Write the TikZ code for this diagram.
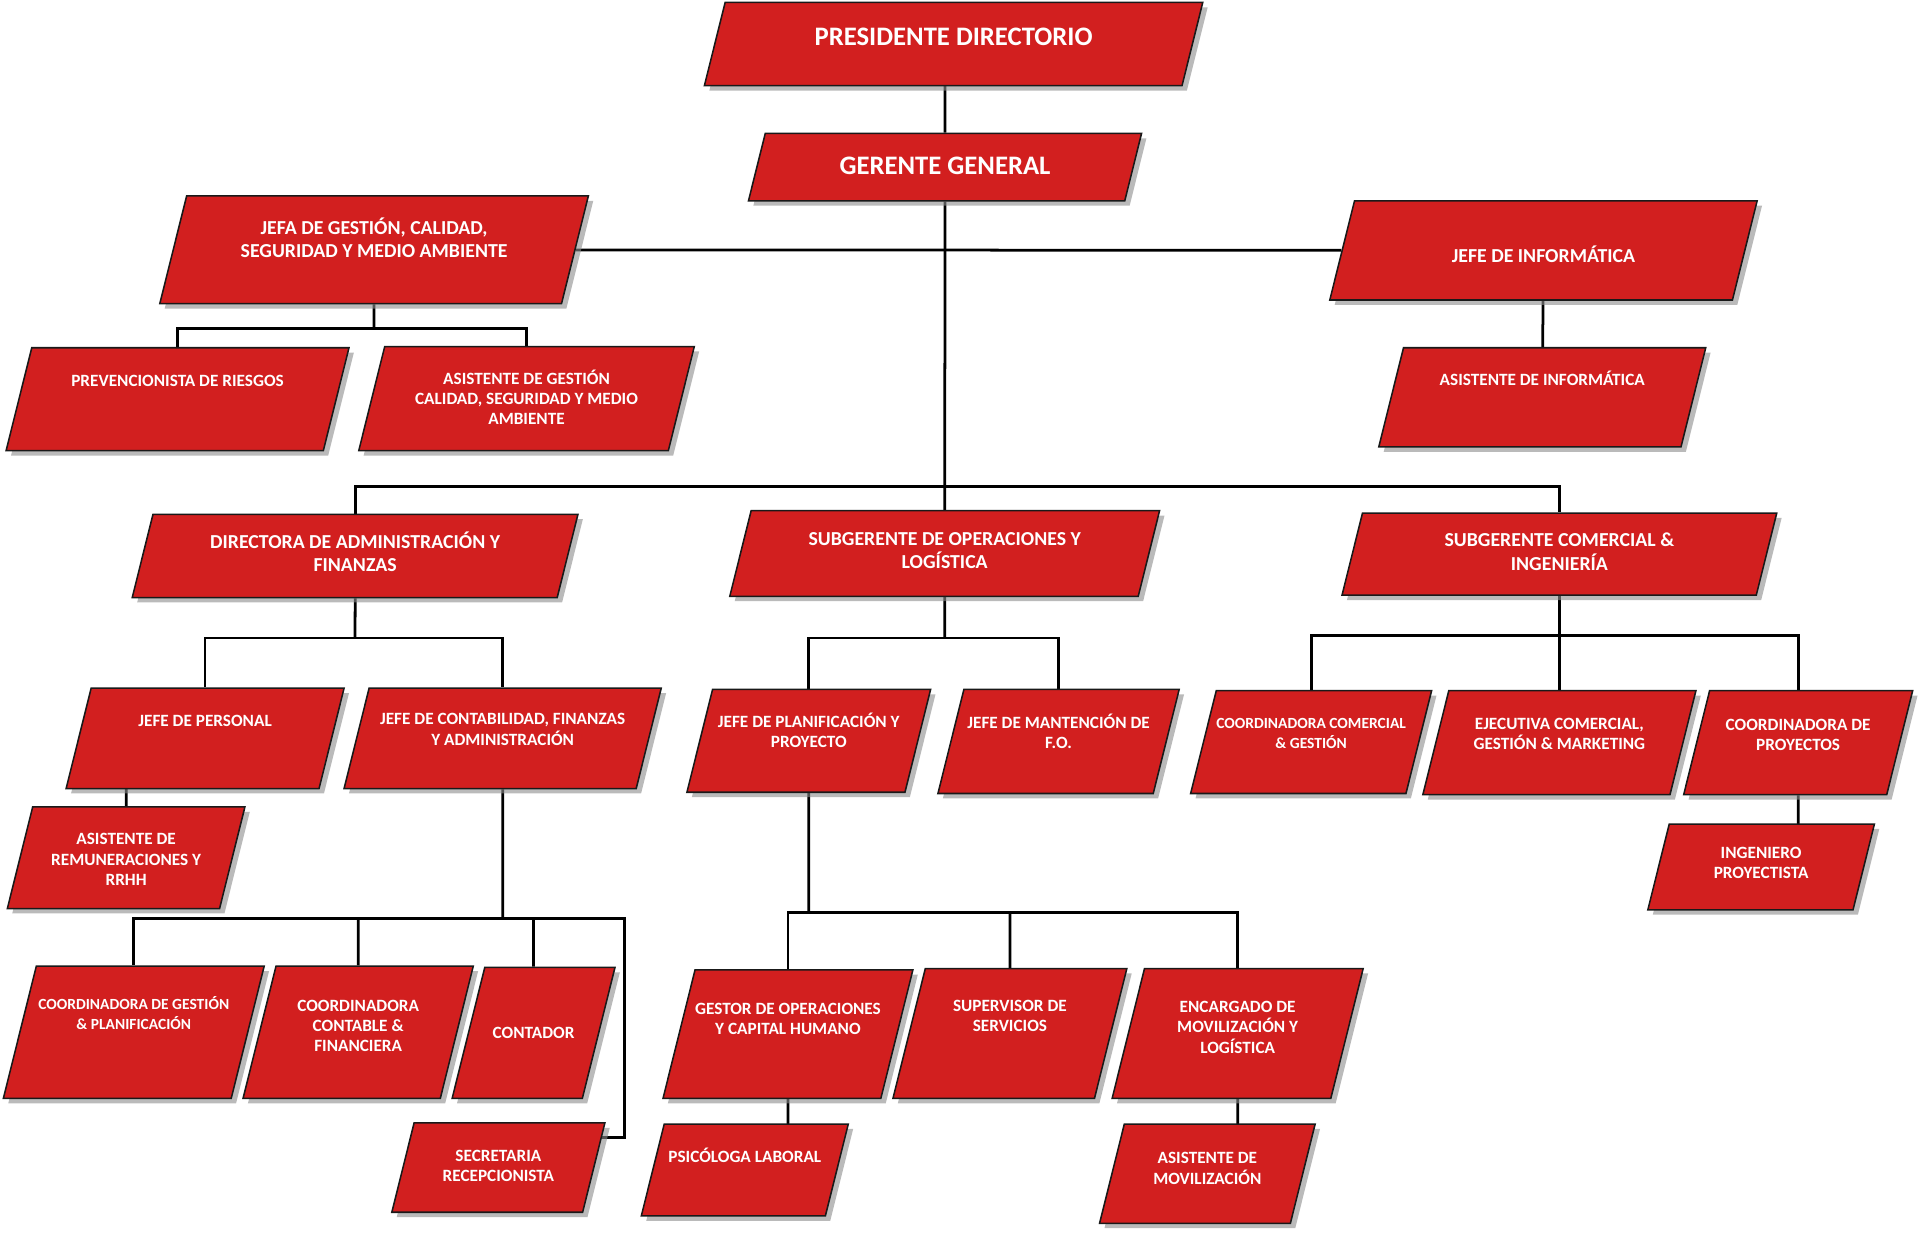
\documentclass[tikz,border=0pt]{standalone}
\usepackage{fontspec}
\setmainfont{Carlito}
\usepackage{xcolor}
\usetikzlibrary{shapes.geometric,shadows,backgrounds}
\definecolor{rojo}{RGB}{210,31,31}
\newcommand{\rotulo}[2]{\raisebox{\dimexpr #1mm/4-0.33em\relax}[0pt][0pt]{\begin{tabular}{@{}c@{}}#2\end{tabular}}}

\begin{document}
\begin{tikzpicture}[x=0.25mm, y=-0.25mm,
  puesto/.style={trapezium, trapezium left angle=76, trapezium right angle=104,
    trapezium stretches body=true, inner sep=0pt, draw=black!90, line width=0.9pt,
    fill=rojo, text=white,
    drop shadow={shadow xshift=1mm, shadow yshift=-1mm, fill=black!45, opacity=0.6}},
  tam/.style 2 args={minimum width=#1*0.25mm, minimum height=#2*0.25mm,
    text height=#2*0.125mm, text depth=#2*0.125mm},
  grande/.style={font=\fontsize{15.5}{18}\selectfont\bfseries},
  medio/.style={font=\fontsize{11.5}{13.5}\selectfont\bfseries},
  chico/.style={font=\fontsize{10}{11.7}\selectfont\bfseries},
  enlace/.style={line width=1.6pt}]
  \useasboundingbox (0,0) rectangle (1568,1013);

  \node[puesto,grande,tam={407}{68}] (pres) at (778.75,36) {\rotulo{6}{PRESIDENTE DIRECTORIO}};
  \node[puesto,grande,tam={321}{55}] (ger) at (771.75,136.5) {\rotulo{1.5}{GERENTE GENERAL}};
  \node[puesto,medio,tam={350}{88}] (jefa) at (305.5,204) {\rotulo{8}{JEFA DE GESTIÓN, CALIDAD,\\SEGURIDAD Y MEDIO AMBIENTE}};
  \node[puesto,medio,tam={349}{81}] (info) at (1260.5,204.5) {\rotulo{-4.5}{JEFE DE INFORMÁTICA}};
  \node[puesto,chico,tam={280}{84}] (prev) at (145,326) {\rotulo{15}{PREVENCIONISTA DE RIESGOS}};
  \node[puesto,chico,tam={274}{85}] (asisg) at (430,325.5) {\rotulo{0}{ASISTENTE DE GESTIÓN\\CALIDAD, SEGURIDAD Y MEDIO\\AMBIENTE}};
  \node[puesto,chico,tam={267}{81}] (asisi) at (1259.5,324.5) {\rotulo{14}{ASISTENTE DE INFORMÁTICA}};

  \node[puesto,medio,tam={364}{68}] (dir) at (290,454) {\rotulo{1.5}{DIRECTORA DE ADMINISTRACIÓN Y\\FINANZAS}};
  \node[puesto,medio,tam={351}{70}] (subop) at (771.5,452) {\rotulo{2}{SUBGERENTE DE OPERACIONES Y\\LOGÍSTICA}};
  \node[puesto,medio,tam={355}{67}] (subcom) at (1273.5,452.5) {\rotulo{1.5}{SUBGERENTE COMERCIAL \&\\INGENIERÍA}};

  \node[puesto,chico,tam={227}{82}] (jper) at (167.5,603) {\rotulo{14}{JEFE DE PERSONAL}};
  \node[puesto,chico,tam={259}{82}] (jcon) at (410.5,603) {\rotulo{7}{JEFE DE CONTABILIDAD, FINANZAS\\Y ADMINISTRACIÓN}};
  \node[puesto,chico,tam={199}{84}] (jpla) at (660.5,605) {\rotulo{7}{JEFE DE PLANIFICACIÓN Y\\PROYECTO}};
  \node[puesto,chico,tam={197}{85}] (jman) at (864.5,605.5) {\rotulo{7}{JEFE DE MANTENCIÓN DE\\F.O.}};
  \node[puesto,chico,tam={193}{84}] (ccom) at (1070.75,606) {\rotulo{7}{\fontsize{9}{11.7}\selectfont COORDINADORA COMERCIAL\\\fontsize{9}{11.7}\selectfont\& GESTIÓN}};
  \node[puesto,chico,tam={223}{85}] (ejec) at (1273.5,606.5) {\rotulo{7}{EJECUTIVA COMERCIAL,\\GESTIÓN \& MARKETING}};
  \node[puesto,chico,tam={187}{85}] (cpro) at (1468.5,606.5) {\rotulo{6}{COORDINADORA DE\\PROYECTOS}};
  \node[puesto,chico,tam={185}{70}] (inge) at (1438.25,708) {\rotulo{3}{INGENIERO\\PROYECTISTA}};
  \node[puesto,chico,tam={194}{83}] (arem) at (103,700.5) {\rotulo{-1.5}{ASISTENTE DE\\REMUNERACIONES Y\\RRHH}};

  \node[puesto,chico,tam={213}{108}] (cges) at (109.25,843) {\rotulo{15}{\fontsize{9}{11.7}\selectfont COORDINADORA DE GESTIÓN\\\fontsize{9}{11.7}\selectfont\& PLANIFICACIÓN}};
  \node[puesto,chico,tam={188}{108}] (ccon) at (292.5,843) {\rotulo{5}{COORDINADORA\\CONTABLE \&\\FINANCIERA}};
  \node[puesto,chico,tam={133}{107}] (cont) at (435.75,843.5) {\rotulo{0}{CONTADOR}};
  \node[puesto,chico,tam={174}{73}] (secr) at (407,953.5) {\rotulo{1.5}{SECRETARIA\\RECEPCIONISTA}};
  \node[puesto,chico,tam={202}{105}] (gest) at (643.5,844.5) {\rotulo{12}{GESTOR DE OPERACIONES\\Y CAPITAL HUMANO}};
  \node[puesto,chico,tam={191}{106}] (supe) at (824.75,844) {\rotulo{14}{SUPERVISOR DE\\SERVICIOS}};
  \node[puesto,chico,tam={205}{106}] (enca) at (1010.75,844) {\rotulo{5}{ENCARGADO DE\\MOVILIZACIÓN Y\\LOGÍSTICA}};
  \node[puesto,chico,tam={169}{75}] (psic) at (608.25,955.5) {\rotulo{11}{PSICÓLOGA LABORAL}};
  \node[puesto,chico,tam={176}{81}] (amov) at (986,958.5) {\rotulo{4}{ASISTENTE DE\\MOVILIZACIÓN}};

  \coordinate (bgen) at (772,397);
  \coordinate (bjefa) at (309,268);
  \coordinate (bdir) at (279,521);
  \coordinate (bcon) at (399,750);
  \coordinate (bsec) at (510,750);
  \coordinate (bops) at (772,521);
  \coordinate (bpla) at (660,745);
  \coordinate (bcom) at (1272,519);

  \begin{scope}[on background layer]
    \draw[enlace] (ger) -- (ger |- pres);
    \draw[enlace] (ger) -- (subop);
    \draw[enlace] (jefa) -- (info);
    \draw[enlace] (dir) |- (bgen) -| (subcom);
    \draw[enlace] (jefa) -- (jefa |- bjefa);
    \draw[enlace] (prev) |- (bjefa) -| (asisg);
    \draw[enlace] (info) -- (asisi);
    \draw[enlace] (dir) -- (dir |- bdir);
    \draw[enlace] (jper) |- (bdir) -| (jcon);
    \draw[enlace] (arem) -- (arem |- jper);
    \draw[enlace] (jcon) -- (jcon |- bcon);
    \draw[enlace] (cges) |- (bsec) |- (secr.16);
    \draw[enlace] (ccon) -- (ccon |- bcon);
    \draw[enlace] (cont) -- (cont |- bcon);
    \draw[enlace] (subop) -- (subop |- bops);
    \draw[enlace] (jpla) |- (bops) -| (jman);
    \draw[enlace] (jpla) -- (jpla |- bpla);
    \draw[enlace] (gest) |- (bpla) -| (enca);
    \draw[enlace] (supe) -- (supe |- bpla);
    \draw[enlace] (gest) -- (gest |- psic);
    \draw[enlace] (enca) -- (enca |- amov);
    \draw[enlace] (subcom) -- (ejec);
    \draw[enlace] (ccom) |- (bcom) -| (cpro);
    \draw[enlace] (cpro) -- (cpro |- inge);
  \end{scope}
\end{tikzpicture}
\end{document}
